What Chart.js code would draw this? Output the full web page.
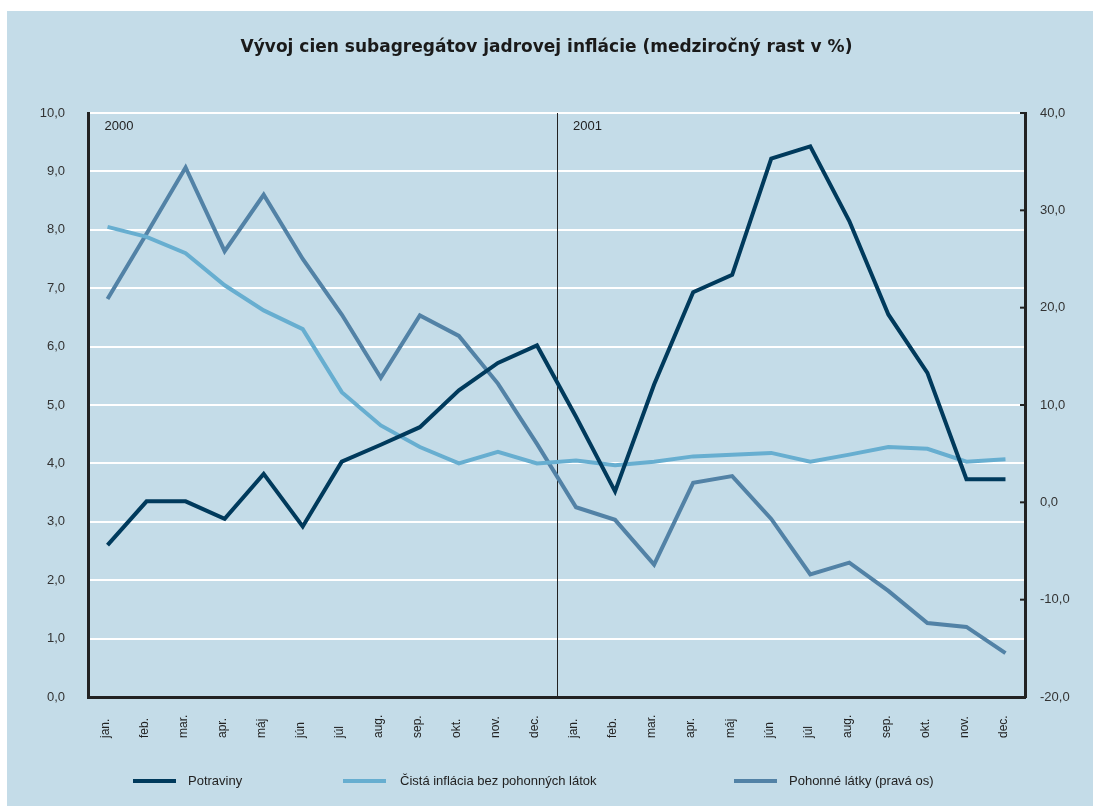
<!DOCTYPE html>
<html>
<head>
<meta charset="utf-8">
<script src="https://cdn.jsdelivr.net/npm/chart.js@4.4.1/dist/chart.umd.min.js"></script>
<style>
html,body{margin:0;padding:0;background:#fff;}
canvas{display:block;}
</style>
</head>
<body>
<canvas id="c" width="1093" height="806"></canvas>
<script>
const TITLE = 'Vývoj cien subagregátov jadrovej inflácie (medziročný rast v %)';
const categories = ['jan.','feb.','mar.','apr.','máj','jún','júl','aug.','sep.','okt.','nov.','dec.',
                    'jan.','feb.','mar.','apr.','máj','jún','júl','aug.','sep.','okt.','nov.','dec.'];
const yearLabels = ['2000','2001'];
const potraviny = [2.6,3.35,3.35,3.05,3.82,2.92,4.03,4.32,4.62,5.25,5.72,6.02,
                   4.8,3.52,5.35,6.93,7.23,9.22,9.43,8.15,6.55,5.55,3.73,3.73];
const cistaInflacia = [8.05,7.88,7.6,7.05,6.62,6.3,5.22,4.65,4.28,4.0,4.2,4.0,
                       4.05,3.97,4.03,4.12,4.15,4.18,4.03,4.15,4.28,4.25,4.03,4.07];
const pohonneLatky = [20.9,27.6,34.4,25.8,31.6,25.0,19.3,12.8,19.2,17.1,12.2,6.0,
                      -0.5,-1.8,-6.4,2.0,2.7,-1.7,-7.4,-6.2,-9.1,-12.4,-12.8,-15.5];
const seriesNames = ['Potraviny','Čistá inflácia bez pohonných látok','Pohonné látky (pravá os)'];

const FONT = '"Liberation Sans", Arial, Helvetica, sans-serif';
const TITLE_FONT = '"DejaVu Sans", "Liberation Sans", Arial, sans-serif';
const fmt = v => Number(v).toFixed(1).replace('.', ',');

const customPlugin = {
  id: 'custom',
  beforeDraw(chart) {
    const ctx = chart.ctx;
    ctx.save();
    ctx.fillStyle = '#ffffff';
    ctx.fillRect(0, 0, chart.width, chart.height);
    ctx.fillStyle = '#c4dce8';
    ctx.fillRect(7, 11, chart.width - 7, chart.height - 11);
    ctx.restore();
  },
  beforeDatasetsDraw(chart) {
    const ctx = chart.ctx;
    const x = chart.scales.x, y1 = chart.scales.y1;
    const ca = chart.chartArea;
    ctx.save();
    const xs = Math.round(x.getPixelForValue(11.5)) + 0.5;
    ctx.strokeStyle = '#222';
    ctx.lineWidth = 1;
    ctx.beginPath();
    ctx.moveTo(xs, ca.top);
    ctx.lineTo(xs, ca.bottom);
    ctx.stroke();
    ctx.fillStyle = '#222';
    ctx.font = '13px ' + FONT;
    ctx.textAlign = 'left';
    ctx.textBaseline = 'middle';
    ctx.fillText(yearLabels[0], x.getPixelForValue(0) - 3, ca.top + 13);
    ctx.fillText(yearLabels[1], x.getPixelForValue(12) - 3, ca.top + 13);
    ctx.strokeStyle = '#222';
    ctx.lineWidth = 2;
    y1.ticks.forEach(t => {
      const py = y1.getPixelForValue(t.value);
      ctx.beginPath();
      ctx.moveTo(ca.right - 5, py);
      ctx.lineTo(ca.right, py);
      ctx.stroke();
    });
    ctx.restore();
  },
  afterDraw(chart) {
    const ctx = chart.ctx;
    const x = chart.scales.x;
    ctx.save();
    ctx.fillStyle = '#222';
    ctx.font = '12px ' + FONT;
    ctx.textAlign = 'left';
    ctx.textBaseline = 'middle';
    categories.forEach((c, i) => {
      const px = x.getPixelForValue(i) - 2;
      ctx.save();
      ctx.translate(px, 738);
      ctx.rotate(-Math.PI / 2);
      ctx.fillText(c, 0, 0);
      ctx.restore();
    });
    const items = [[133, 188], [343, 400], [734, 789]];
    ctx.font = '13px ' + FONT;
    chart.data.datasets.forEach((ds, i) => {
      const [lx, tx] = items[i];
      const ly = 781;
      ctx.strokeStyle = ds.borderColor;
      ctx.lineWidth = 4;
      ctx.beginPath();
      ctx.moveTo(lx, ly);
      ctx.lineTo(lx + 43, ly);
      ctx.stroke();
      ctx.fillStyle = '#222';
      ctx.fillText(ds.label, tx, ly);
    });
    ctx.restore();
  }
};

new Chart(document.getElementById('c'), {
  type: 'line',
  data: {
    labels: categories,
    datasets: [
      { label: seriesNames[0], data: potraviny, yAxisID: 'y', borderColor: '#003a5c', backgroundColor: '#003a5c' },
      { label: seriesNames[1], data: cistaInflacia, yAxisID: 'y', borderColor: '#67aed0', backgroundColor: '#67aed0' },
      { label: seriesNames[2], data: pohonneLatky, yAxisID: 'y1', borderColor: '#5282a6', backgroundColor: '#5282a6' }
    ]
  },
  options: {
    responsive: false,
    animation: false,
    devicePixelRatio: 1,
    layout: { padding: 0 },
    elements: {
      line: { borderWidth: 4, tension: 0, borderJoinStyle: 'miter', borderCapStyle: 'butt' },
      point: { radius: 0, hoverRadius: 0 }
    },
    plugins: {
      legend: { display: false },
      tooltip: { enabled: false },
      title: {
        display: true,
        text: TITLE,
        color: '#1a1a1a',
        font: { family: TITLE_FONT, size: 17, weight: 'bold' },
        padding: { top: 37, bottom: 55.6 }
      }
    },
    scales: {
      x: {
        type: 'category',
        offset: true,
        grid: { display: false, drawTicks: false },
        border: { display: true, color: '#222', width: 3 },
        ticks: { display: false },
        afterFit(s) { s.height = 109; }
      },
      y: {
        position: 'left',
        min: 0, max: 10,
        ticks: { stepSize: 1, callback: v => fmt(v), color: '#333', padding: 23, font: { family: FONT, size: 13 } },
        grid: { color: ctx => ctx.tick && ctx.tick.value === 0 ? 'rgba(0,0,0,0)' : '#ffffff', lineWidth: 2, drawTicks: false },
        border: { display: true, color: '#222', width: 3 },
        afterFit(s) { s.width = 88; }
      },
      y1: {
        position: 'right',
        min: -20, max: 40,
        ticks: { stepSize: 10, callback: v => fmt(v), color: '#333', padding: 15, font: { family: FONT, size: 13 } },
        grid: { drawOnChartArea: false, drawTicks: false },
        border: { display: true, color: '#222', width: 3 },
        afterFit(s) { s.width = 68; }
      }
    }
  },
  plugins: [customPlugin]
});
</script>
</body>
</html>
